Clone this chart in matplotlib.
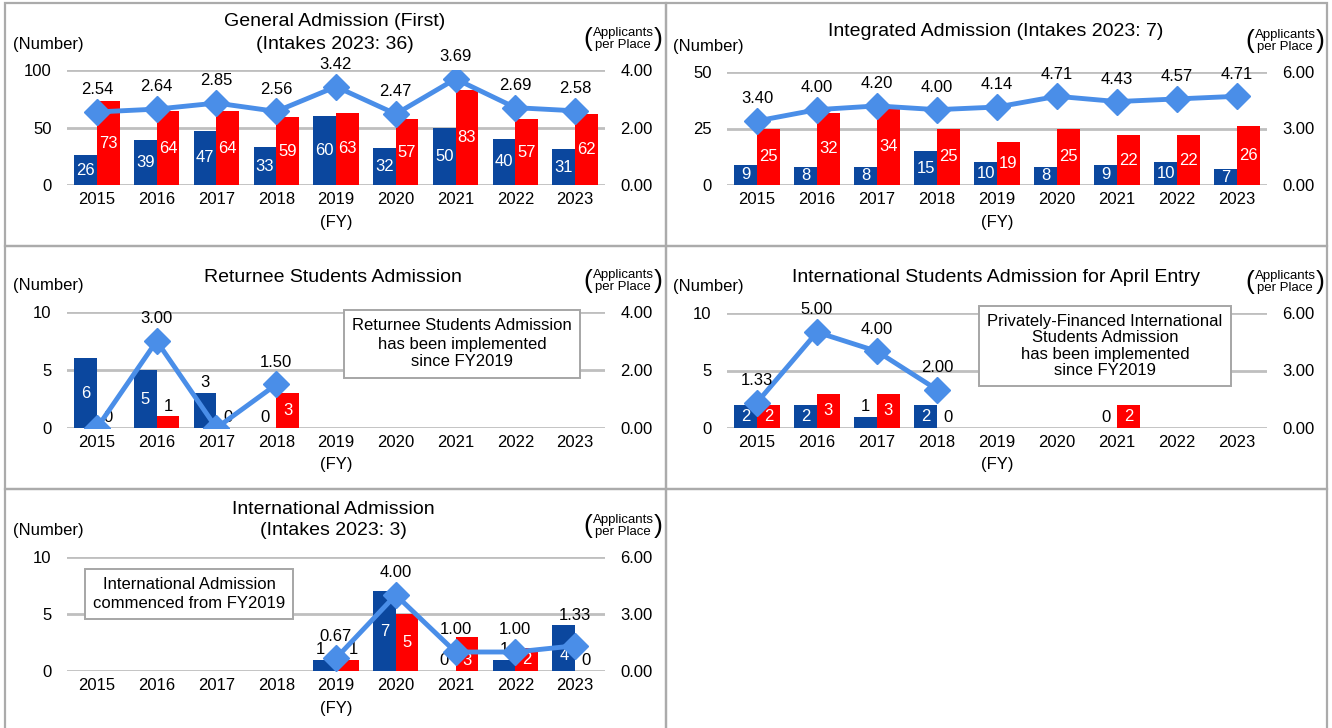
import numpy as np
import matplotlib
matplotlib.use("Agg")
import matplotlib.pyplot as plt
from matplotlib.patches import Rectangle

plt.rcParams['font.family'] = ['Liberation Sans', 'DejaVu Sans']

W, H = 1332, 728
nan = np.nan

years = ['2015', '2016', '2017', '2018', '2019', '2020', '2021', '2022', '2023']

gen_blue = [26, 39, 47, 33, 60, 32, 50, 40, 31]
gen_red = [73, 64, 64, 59, 63, 57, 83, 57, 62]
gen_ratio = [2.54, 2.64, 2.85, 2.56, 3.42, 2.47, 3.69, 2.69, 2.58]

int_blue = [9, 8, 8, 15, 10, 8, 9, 10, 7]
int_red = [25, 32, 34, 25, 19, 25, 22, 22, 26]
int_ratio = [3.40, 4.00, 4.20, 4.00, 4.14, 4.71, 4.43, 4.57, 4.71]

ret_blue = [6, 5, 3, 0, nan, nan, nan, nan, nan]
ret_red = [0, 1, 0, 3, nan, nan, nan, nan, nan]
ret_ratio = [0.0, 3.00, 0.0, 1.50, nan, nan, nan, nan, nan]

apr_blue = [2, 2, 1, 2, nan, nan, 0, nan, nan]
apr_red = [2, 3, 3, 0, nan, nan, 2, nan, nan]
apr_ratio = [1.33, 5.00, 4.00, 2.00, nan, nan, nan, nan, nan]

ia_blue = [nan, nan, nan, nan, 1, 7, 0, 1, 4]
ia_red = [nan, nan, nan, nan, 1, 5, 3, 2, 0]
ia_ratio = [nan, nan, nan, nan, 0.67, 4.00, 1.00, 1.00, 1.33]

BLUE = '#0b479e'
RED = '#ff0000'
LINE = '#4a8ee8'
GRID = '#bfbfbf'
BORDER = '#ababab'
FS = 12

fig = plt.figure(figsize=(W / 100, H / 100), dpi=100)


def fx(px):
    return px / W


def fy(py):
    return 1 - py / H


def ftext(px, py, s, **kw):
    fig.text(fx(px), fy(py), s, **kw)


def panel(rect, blue, red, ratio, ymax, yticks, y2max, y2ticks,
          outside=(), lift=None, sink=(), spread=()):
    lift = lift or {}
    x0, y0, x1, y1 = rect
    ax = fig.add_axes([fx(x0), fy(y1), fx(x1 - x0), (y1 - y0) / H])
    ax2 = ax.twinx()
    x = np.arange(len(years))
    wd = 0.38
    ax.bar(x - wd / 2, blue, wd, color=BLUE, zorder=2)
    ax.bar(x + wd / 2, red, wd, color=RED, zorder=2)
    ax.set_xlim(-0.5, len(years) - 0.5)
    ax.set_ylim(0, ymax)
    ax.set_yticks(yticks)
    ax.set_yticklabels([str(t) for t in yticks])
    ax.set_xticks(x)
    ax.set_xticklabels(years)
    ax.tick_params(axis='x', length=0, labelsize=FS, pad=5)
    ax.tick_params(axis='y', length=0, labelsize=FS, pad=11)
    for t in yticks:
        ax.axhline(t, color=GRID, lw=2, zorder=1)
    for s in ax.spines.values():
        s.set_visible(False)

    # bar labels: inside (white) when the bar is tall enough, else on top
    pxh = (y1 - y0) / ymax
    for series, off, name in ((blue, -wd / 2, 'blue'), (red, wd / 2, 'red')):
        for i, v in enumerate(series):
            if np.isnan(v):
                continue
            if v * pxh >= 15 and (name, i) not in outside:
                dy = -5 if (name, i) in sink else 0
                ax.annotate(str(int(v)), (i + off, v / 2), xytext=(0, dy),
                            textcoords='offset points', color='white',
                            ha='center', va='center', fontsize=FS, zorder=5)
            else:
                dx = 0
                if i in spread:
                    dx = -3 if name == 'blue' else 4
                ax.annotate(str(int(v)), (i + off, v), xytext=(dx, 2),
                            textcoords='offset points', ha='center',
                            va='bottom', fontsize=FS, zorder=5)

    ax2.plot(x, ratio, color=LINE, lw=3.5, marker='D', markersize=13.5,
             zorder=4)
    ax2.set_ylim(0, y2max)
    ax2.set_yticks(y2ticks)
    ax2.set_yticklabels(['%.2f' % t for t in y2ticks])
    ax2.tick_params(length=0, labelsize=FS, pad=11)
    for s in ax2.spines.values():
        s.set_visible(False)
    for i, v in enumerate(ratio):
        if np.isnan(v) or v == 0:
            continue
        ax2.annotate('%.2f' % v, (i, v), xytext=(0, 16 + lift.get(i, 0)),
                     textcoords='offset points', ha='center', va='center',
                     fontsize=FS, zorder=6)
    return ax


# panel borders
for (bx, by, bw, bh) in [(5, 3, 661, 243), (666, 3, 661, 243),
                         (5, 246, 661, 243), (666, 246, 661, 243),
                         (5, 489, 661, 260), (666, 489, 661, 260)]:
    fig.add_artist(Rectangle((fx(bx), fy(by + bh)), bw / W, bh / H,
                             fill=False, edgecolor=BORDER, lw=1.6,
                             transform=fig.transFigure))

panels = [
    ((67, 70, 605, 185), gen_blue, gen_red, gen_ratio, 100, [0, 50, 100], 4, [0, 2, 4], {}),
    ((727, 72, 1267, 185), int_blue, int_red, int_ratio, 50, [0, 25, 50], 6, [0, 3, 6], {}),
    ((67, 312, 605, 428), ret_blue, ret_red, ret_ratio, 10, [0, 5, 10], 4, [0, 2, 4],
     dict(outside=(('blue', 2),))),
    ((727, 313, 1267, 428), apr_blue, apr_red, apr_ratio, 10, [0, 5, 10], 6, [0, 3, 6], {}),
    ((67, 557, 605, 671), ia_blue, ia_red, ia_ratio, 10, [0, 5, 10], 6, [0, 3, 6],
     dict(lift={8: 6}, sink=(('red', 6), ('blue', 8)), spread=(4,))),
]

for rect, b, r, q, ym, yt, y2m, y2t, extra in panels:
    panel(rect, b, r, q, ym, yt, y2m, y2t, **extra)
    x0, y0, x1, y1 = rect
    ftext((x0 + x1) / 2, y1 + 37, '(FY)', ha='center', va='center', fontsize=FS)
    ftext(x0 - 54, y0 - 26, '(Number)', ha='left', va='center', fontsize=FS)
    cx = x1 + 18
    ftext(cx, y0 - 31, 'Applicants\nper Place', ha='center', va='center',
          fontsize=9.5, linespacing=0.95)
    ftext(cx - 35, y0 - 31, '(', ha='center', va='center', fontsize=19)
    ftext(cx + 35, y0 - 31, ')', ha='center', va='center', fontsize=19)

# titles
ftext(335, 33, 'General Admission (First)\n(Intakes 2023: 36)', ha='center',
      va='center', fontsize=14, linespacing=1.45)
ftext(996, 32, 'Integrated Admission (Intakes 2023: 7)', ha='center',
      va='center', fontsize=14)
ftext(333, 277, 'Returnee Students Admission', ha='center', va='center',
      fontsize=14)
ftext(996, 277, 'International Students Admission for April Entry',
      ha='center', va='center', fontsize=14)
ftext(333, 520, 'International Admission\n(Intakes 2023: 3)', ha='center',
      va='center', fontsize=14, linespacing=1.35)

# notes
box = dict(boxstyle='square,pad=0.5', facecolor='white', edgecolor='#a6a6a6',
           lw=1.4)
ftext(462, 344, 'Returnee Students Admission\nhas been implemented\nsince FY2019',
      ha='center', va='center', fontsize=FS, linespacing=1.25, bbox=box, zorder=10)
ftext(1105, 346, 'Privately-Financed International\nStudents Admission\n'
      'has been implemented\nsince FY2019', ha='center', va='center',
      fontsize=FS, linespacing=1.1, bbox=box, zorder=10)
ftext(189, 594, 'International Admission\ncommenced from FY2019', ha='center',
      va='center', fontsize=FS, linespacing=1.3, bbox=box, zorder=10)

fig.savefig('out.png', dpi=100)
